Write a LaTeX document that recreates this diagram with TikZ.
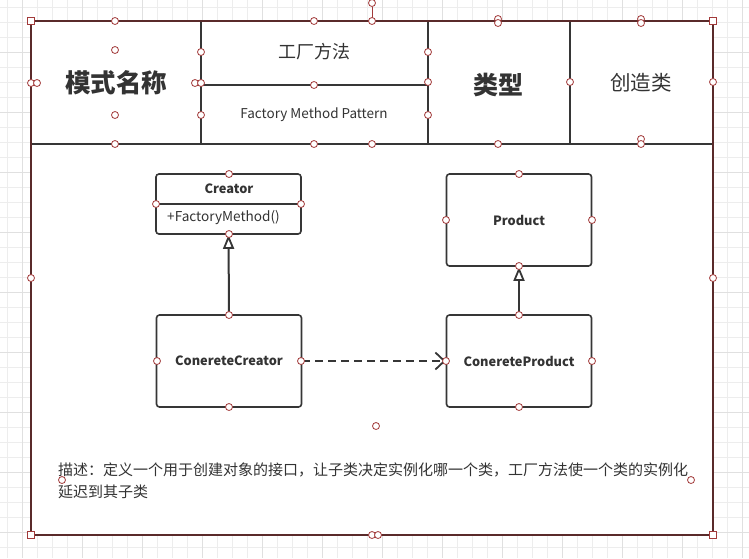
\documentclass[tikz,border=0pt]{standalone}
\usepackage{fontspec}
\setmainfont{Noto Sans CJK SC}
\usetikzlibrary{arrows.meta,calc}
\definecolor{txt}{HTML}{333333}
\definecolor{edge}{HTML}{363636}
\definecolor{framered}{HTML}{5A2A2A}
\definecolor{hdlred}{HTML}{A23A3A}
\definecolor{gridminor}{HTML}{EDEDED}
\definecolor{gridmajor}{HTML}{E0E0E0}
\tikzset{
	cell/.style={draw=edge, line width=1.6pt},
	umlbox/.style={draw=edge, line width=1.6pt, rounded corners=3pt, fill=white, minimum width=145pt, minimum height=92pt, inner sep=0pt, text=txt, font=\fontsize{12.8}{15}\selectfont\bfseries},
	inherit/.style={draw=edge, line width=2pt, -{Triangle[open, length=14pt, width=11pt, line width=1.8pt]}},
	depend/.style={draw=edge, line width=2pt, dash pattern=on 8pt off 5pt, -{Straight Barb[length=9pt, width=17pt, line width=1.8pt]}},
	hdl/.style={draw=hdlred, fill=white, line width=0.8pt},
}

\begin{document}
\begin{tikzpicture}[x=1pt, y=-1pt]
			%%%%% START %%%%%
			\useasboundingbox (0,0) rectangle (749,558);
			\fill[white] (0,0) rectangle (749,558);
			
			% grid
			\foreach \x in {7.7,22.7,...,749} \draw[gridminor, line width=0.8pt] (\x,0) -- (\x,558);
			\foreach \y in {7.5,22.5,...,558} \draw[gridminor, line width=0.8pt] (0,\y) -- (749,\y);
			\foreach \x in {22.7,82.7,...,749} \draw[gridmajor, line width=0.8pt] (\x,0) -- (\x,558);
			\foreach \y in {52.5,112.5,...,558} \draw[gridmajor, line width=0.8pt] (0,\y) -- (749,\y);
			
			\fill[white] (31,21) rectangle (713,535);
			
			% header
			\draw[cell] (31,21) rectangle (201,144);
			\draw[cell] (201,21) rectangle (428,85);
			\draw[cell] (201,85) rectangle (428,144);
			\draw[cell] (428,21) rectangle (570,144);
			\draw[cell] (570,21) rectangle (713,144);
			\draw[draw=framered, line width=1.6pt] (31,21) rectangle (713,535);
			
			\node[text=txt, font=\fontsize{25.5}{30}\selectfont\bfseries] (patname) at (116,83) {模式名称};
			\node[text=txt, font=\fontsize{18}{22}\selectfont] (cnname) at (314,52) {工厂方法};
			\node[text=txt, font=\fontsize{13.5}{16}\selectfont] (enname) at (314,115) {Factory Method Pattern};
			\node[text=txt, font=\fontsize{25}{30}\selectfont\bfseries] (kind) at (498,85) {类型};
			\node[text=txt, font=\fontsize{20.5}{24}\selectfont] (kindval) at (641,83) {创造类};
			
			% classes
			\node[umlbox, minimum height=60pt] (creator) at (228.5,204) {};
			\draw[cell] (creator.west) -- (creator.east);
			\node[text=txt, font=\fontsize{12.8}{15}\selectfont\bfseries] (creatorname) at (229,189) {Creator};
			\node[text=txt, font=\fontsize{13.6}{16}\selectfont, anchor=west, inner sep=0pt] (creatorop) at (167,218) {+FactoryMethod()};
			
			\node[umlbox] (product) at (519,220) {Product};
			\node[umlbox] (ccreator) at (229,361) {ConereteCreator};
			\node[umlbox] (cproduct) at (519,361) {ConereteProduct};
			
			\draw[inherit] (ccreator.north) -- (creator.south);
			\draw[inherit] (cproduct.north) -- (product.south);
			\draw[depend] (ccreator.east) -- (cproduct.west);
			
			% description
			\node[text=txt, font=\fontsize{15}{22}\selectfont, anchor=west, align=left, inner sep=0pt] (desc) at (58,481) {描述：定义一个用于创建对象的接口，让子类决定实例化哪一个类，工厂方法使一个类的实例化\\延迟到其子类};
			
			% handles
			\draw[draw=hdlred, line width=0.8pt] (372,7) -- (372,21);
			\foreach \p in {(115,21),(314,21),(372,21),(372,3),(498,19),(498,23),(641,19),(641,23),
				(115,50),(115,115),(115,144),(31,83),(37,83),(195,83),(201,83),(201,52),(201,115),
				(314,85),(314,144),(372,144),(428,52),(428,82),(428,115),(498,144),(570,82),
				(641,139),(641,144),(713,82),(31,278),(713,278),(62,480),(691,480),(376,426),
				(372,535),(378,535),
				(229,174),(156,204),(301,204),(229,234),
				(519,174),(446,220),(592,220),(519,266),
				(229,315),(157,361),(301,361),(229,407),
				(519,315),(446,361),(592,361),(519,407)}
				\draw[hdl] \p circle[radius=3.5pt];
			\foreach \x/\y in {31/21,713/21,31/535,713/535}
				\draw[hdl] (\x-3.5,\y-3.5) rectangle (\x+3.5,\y+3.5);
			
			%%%%% END %%%%%
\end{tikzpicture}
\end{document}
